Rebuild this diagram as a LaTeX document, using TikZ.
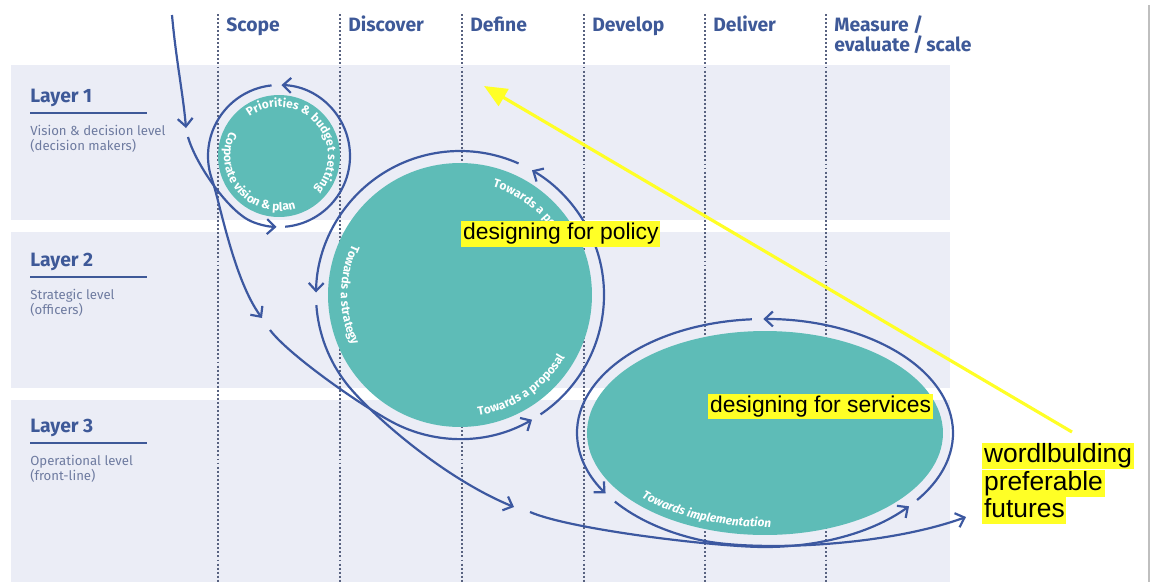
\documentclass[tikz,border=0pt]{standalone}
\usepackage{fontspec}
\setmainfont{Fira Sans}
\newfontfamily\hlfont{Liberation Sans}
\usetikzlibrary{arrows.meta,decorations.text,shapes.geometric,positioning}

\definecolor{bandblue}{RGB}{235,237,246}
\definecolor{headblue}{RGB}{62,89,152}
\definecolor{subgray}{RGB}{110,123,160}
\definecolor{dotgray}{RGB}{88,98,128}
\definecolor{ringblue}{RGB}{60,88,160}
\definecolor{tealfill}{RGB}{94,188,183}
\definecolor{markyellow}{RGB}{255,255,38}

\newcommand\ringfont{\fontsize{6.8}{8}\selectfont\bfseries}

\begin{document}
\begin{tikzpicture}[x=0.02cm, y=-0.02cm,
        band/.style={fill=bandblue},
        phase line/.style={draw=dotgray, line width=1.1pt, dash pattern=on 1.1pt off 1.2pt},
        phase/.style={anchor=base west, inner sep=0pt, text=headblue, font=\fontsize{11}{13}\selectfont\bfseries},
        layer/.style={anchor=base west, inner sep=0pt, text=headblue, font=\fontsize{11}{13}\selectfont\bfseries},
        layer note/.style={anchor=base west, inner sep=0pt, text=subgray, font=\fontsize{7.5}{9}\selectfont},
        flow/.style={draw=ringblue, line width=1.25pt, -{Straight Barb[length=4.5pt,width=8.5pt]}},
        cycle/.style={fill=tealfill, draw=none, inner sep=0pt},
        ring text/.style={decorate, decoration={text along path, text color=white, text align=center, text={#1}}},
        marker/.style={fill=markyellow, text=black, font=\hlfont\fontsize{13}{15}\selectfont,
            inner xsep=1pt, inner ysep=1pt, text height=9.5pt, text depth=2.8pt},
        big marker/.style={marker, font=\hlfont\fontsize{15}{17}\selectfont,
            inner ysep=0.5pt, text height=11pt, text depth=3.2pt},
        wish/.style={draw=markyellow, line width=1.8pt, -{Triangle[length=13pt,width=11pt]}}]

    \useasboundingbox (0,0) rectangle (1157,582);

    % layers
    \fill[band] (11,65) rectangle (950,220);
    \fill[band] (11,232) rectangle (950,388);
    \fill[band] (11,400) rectangle (950,582);
    \draw[black!25, line width=0.8pt] (1149,5) -- (1149,582);

    % phases
    \foreach \x/\name/\label in {218/scope/Scope, 340/discover/Discover, 462/define/Define,
            584/develop/Develop, 705/deliver/Deliver} {
        \draw[phase line] (\x,14) -- (\x,582);
        \node[phase] (\name) at (\x+8,31) {\label};
    }
    \draw[phase line] (826,14) -- (826,582);
    \node[phase] (measure) at (834,31) {Measure /};
    \node[phase] (measure-2) at (834,51) {evaluate\,/\,scale};

    \foreach \y/\n/\a/\b in {113/1/Vision \& decision level/(decision makers),
            277/2/Strategic level/(officers), 443/3/Operational level/(front-line)} {
        \node[layer] (layer\n) at (30,\y-11) {Layer \n};
        \draw[headblue, line width=1.4pt] (30,\y) -- (147,\y);
        \node[layer note] (layer\n-a) at (30,\y+22) {\a};
        \node[layer note] (layer\n-b) at (30,\y+37) {\b};
    }

    % cycles
    \node[cycle, circle, minimum size=2.44cm] (vision) at (279,156) {};
    \node[cycle, circle, minimum size=5.28cm] (policy) at (460,295) {};
    \node[cycle, ellipse, minimum width=7.12cm, minimum height=4.08cm] (services) at (765,433) {};

    \path[ring text={|\ringfont|Priorities {\&} budget setting}]
        ([shift={(-132:49)}]vision.center) arc[start angle=-132, end angle=48, radius=49];
    \path[ring text={|\ringfont|Corporate vision {\&} plan}]
        ([shift={(210:55)}]vision.center) arc[start angle=210, end angle=69, radius=55];
    \path[ring text={|\ringfont|Towards a policy}]
        ([shift={(-100:113)}]policy.center) arc[start angle=-100, end angle=0, radius=113];
    \path[ring text={|\ringfont|Towards a strategy}]
        ([shift={(215:119)}]policy.center) arc[start angle=215, end angle=145, radius=119];
    \path[ring text={|\ringfont|Towards a proposal}]
        ([shift={(90:122)}]policy.center) arc[start angle=90, end angle=22, radius=122];
    \path[ring text={|\ringfont\itshape|Towards implementation}]
        ([shift={(143:170 and 94)}]services.center) arc[start angle=143, end angle=83, x radius=170, y radius=94];

    % flow
    \coordinate (start) at (172,15);
    \coordinate (start-tip) at (186,128);
    \coordinate (start-on) at (188,137);
    \coordinate (drop1) at (262,318);
    \coordinate (drop1-on) at (270,330);
    \coordinate (drop2) at (514,507);
    \coordinate (drop2-on) at (530,512);
    \coordinate (futures-tip) at (966,517);

    \draw[flow] (start) .. controls +(4,45) and +(-3,-35) .. (start-tip);
    \draw[flow] (start-on) .. controls +(8,28) and +(-23,-9) .. ([shift={(112:71)}]vision.center)
        arc[start angle=112, end angle=92, radius=71];
    \draw[flow] ([shift={(85:71)}]vision.center) arc[start angle=85, end angle=-88, radius=71];
    \draw[flow] ([shift={(-96:71)}]vision.center) arc[start angle=-96, end angle=-200, radius=71]
        .. controls +(8,24) and +(-28,-38) .. (drop1);

    \draw[flow] (drop1-on) .. controls +(18,24) and +(-35,-19) .. ([shift={(-242:144)}]policy.center)
        arc[start angle=-242, end angle=-300, radius=144];
    \draw[flow] ([shift={(56:144)}]policy.center) arc[start angle=56, end angle=-60, radius=144];
    \draw[flow] ([shift={(-66:144)}]policy.center) arc[start angle=-66, end angle=-179, radius=144];
    \draw[flow] ([shift={(-184:144)}]policy.center) arc[start angle=-184, end angle=-218, radius=144]
        .. controls +(22,28) and +(-73,-30) .. (drop2);

    \draw[flow] (drop2-on) .. controls +(37,16) and +(-60,-3) .. ([shift={(-265:188 and 114)}]services.center)
        arc[start angle=-265, end angle=-320, x radius=188, y radius=114];
    \draw[flow] ([shift={(36:188 and 114)}]services.center) arc[start angle=36, end angle=-90.5, x radius=188, y radius=114];
    \draw[flow] ([shift={(-94:188 and 114)}]services.center) arc[start angle=-94, end angle=-212, x radius=188, y radius=114];
    \draw[flow] ([shift={(-217:188 and 114)}]services.center) arc[start angle=-217, end angle=-250, x radius=188, y radius=114]
        .. controls +(49,11) and +(-86,31) .. (futures-tip);

    % notes
    \coordinate (wish-tail) at (1072,432);
    \coordinate (wish-tip) at (484,86);
    \draw[wish] (wish-tail) -- (wish-tip);

    \node[marker, anchor=west] (policy-tag) at (461,234) {designing for policy};
    \node[marker, anchor=west] (services-tag) at (708,406.5) {designing for services};
    \node[big marker, anchor=west] (futures-1) at (982,456) {wordlbulding};
    \node[big marker, below=0pt of futures-1.south west, anchor=north west] (futures-2) {preferable};
    \node[big marker, below=0pt of futures-2.south west, anchor=north west] (futures-3) {futures};
\end{tikzpicture}
\end{document}
